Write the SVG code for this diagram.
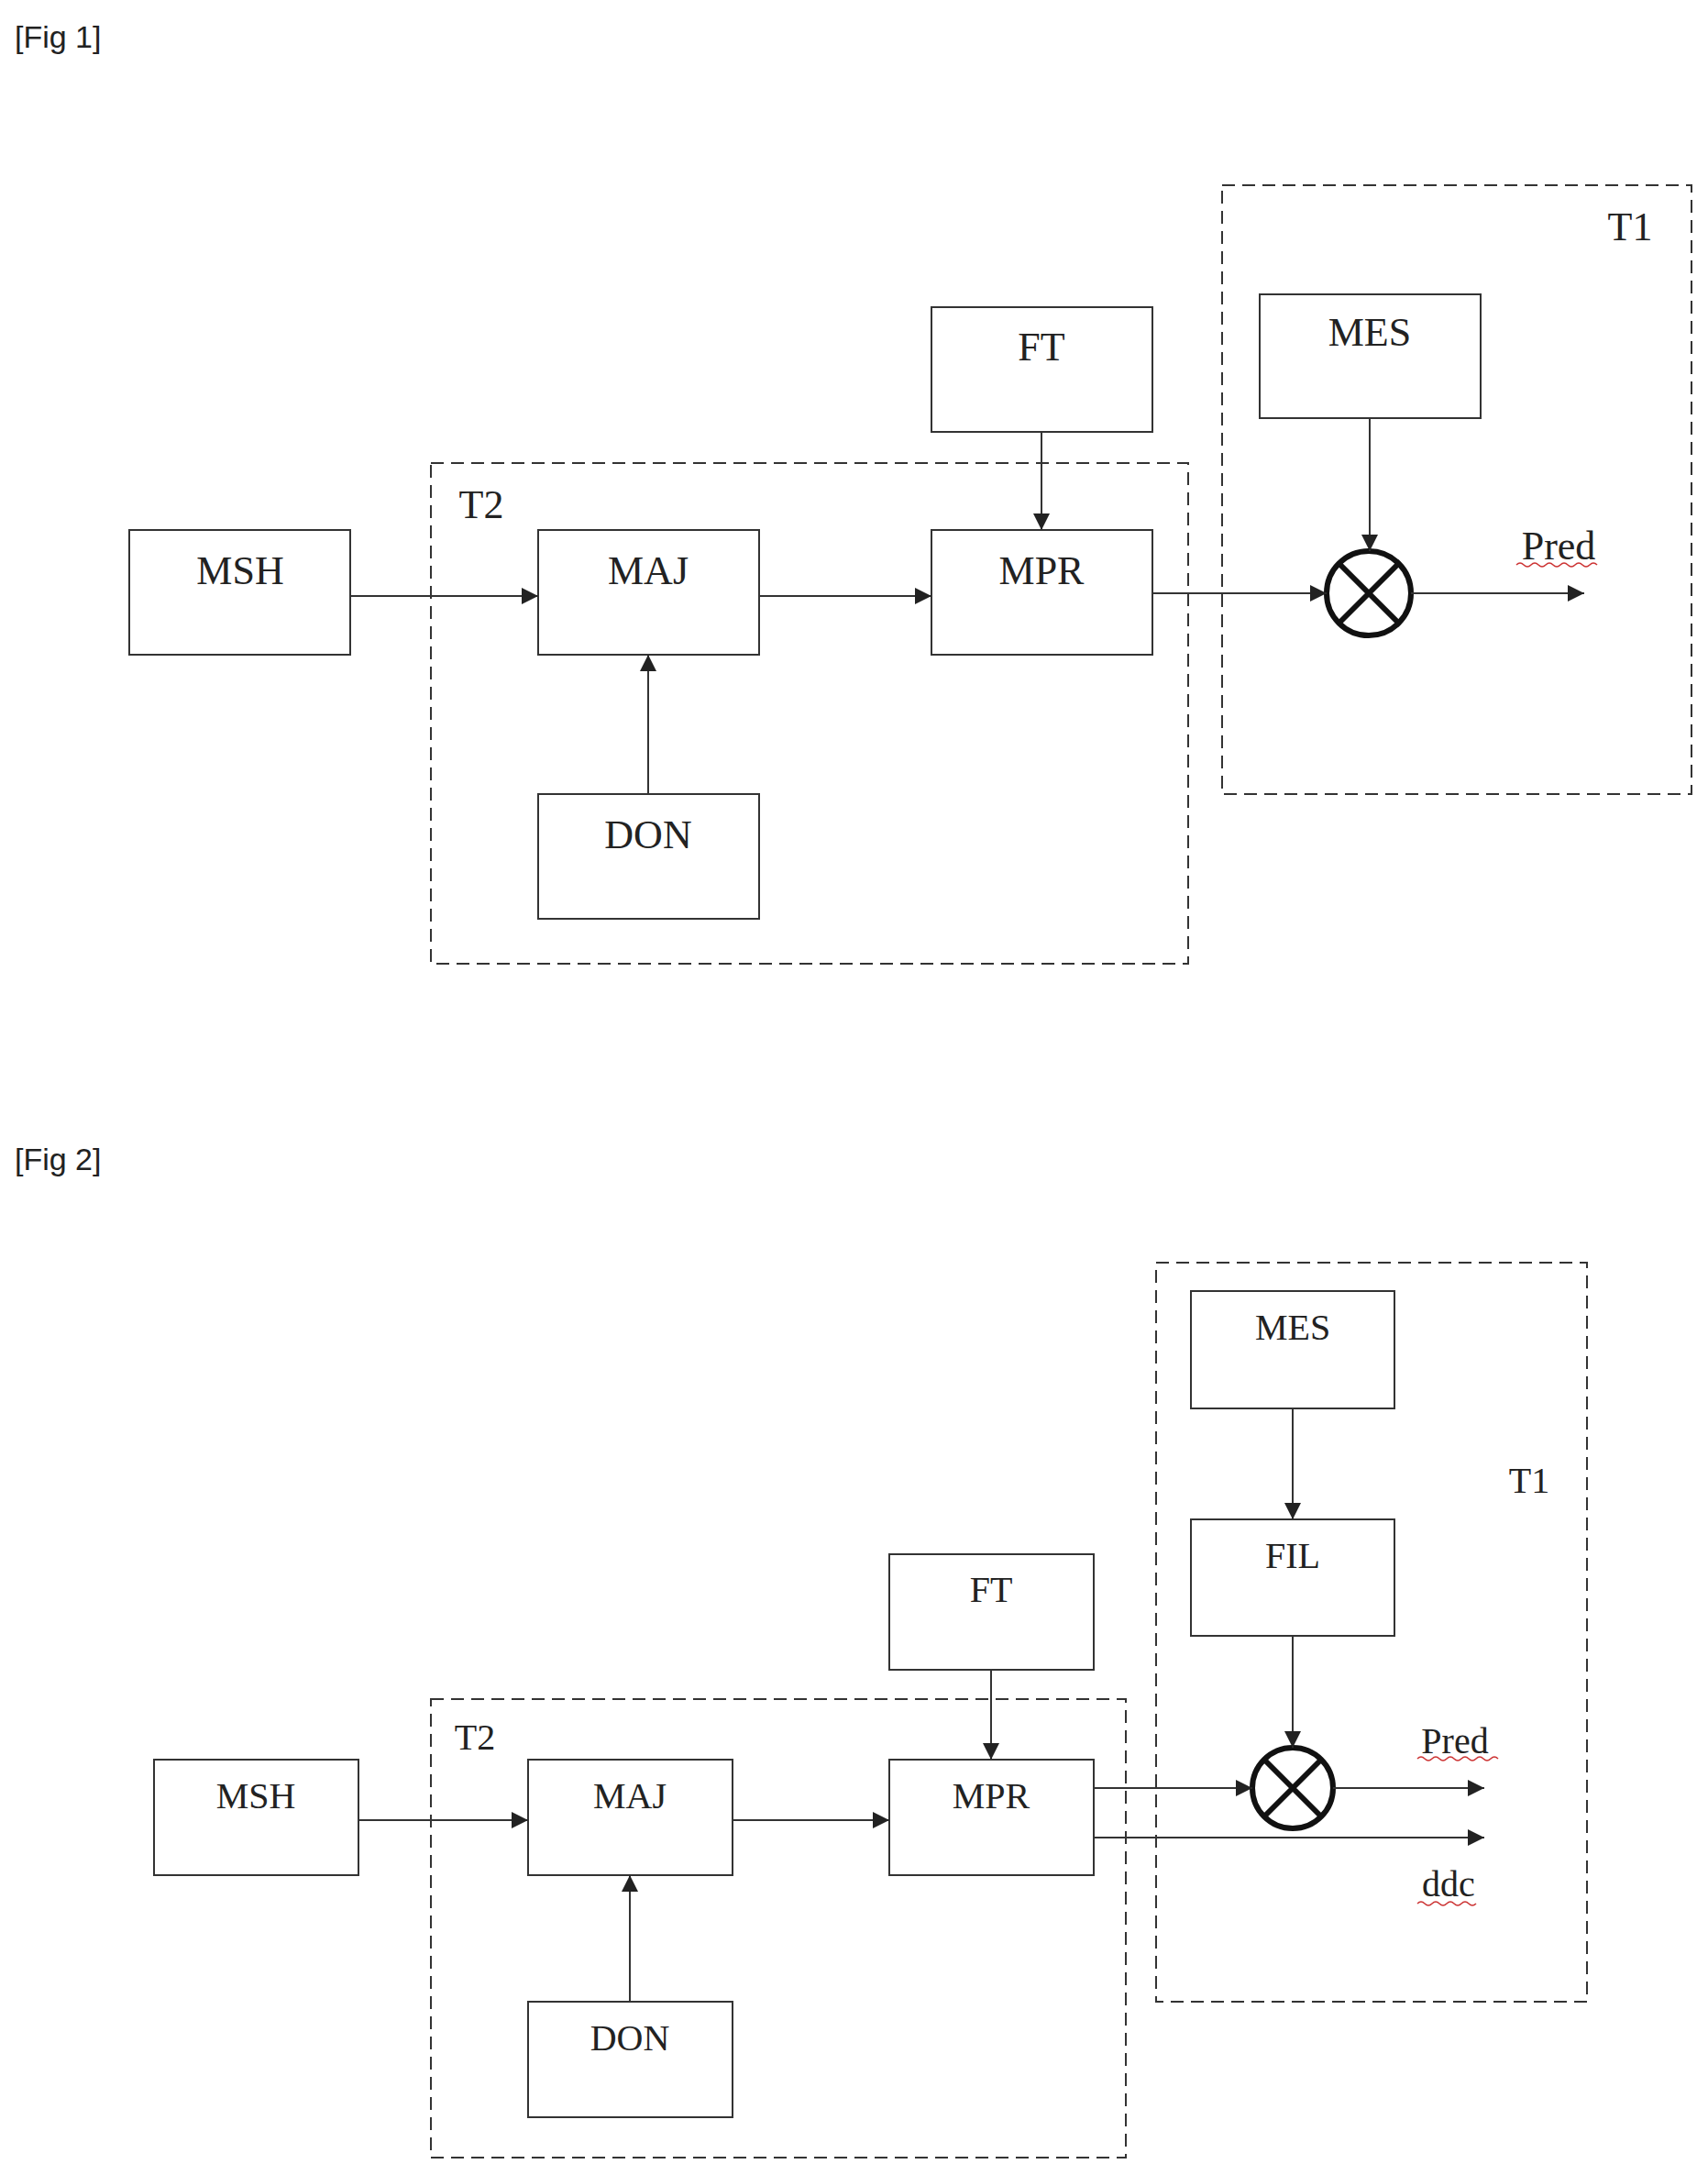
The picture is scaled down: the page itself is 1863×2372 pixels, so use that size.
<svg xmlns="http://www.w3.org/2000/svg" width="1863" height="2372" viewBox="0 0 1863 2372">
<defs>
<style>
.b{fill:#fff;stroke:#333;stroke-width:2}
.d{fill:none;stroke:#333;stroke-width:2;stroke-dasharray:14,8}
.c{stroke:#333;stroke-width:2;fill:none}
.t{font-family:"Liberation Serif",serif;font-size:44px;text-anchor:middle;fill:#222}
.t2{font-family:"Liberation Serif",serif;font-size:40px;text-anchor:middle;fill:#222}
.f{font-family:"Liberation Sans",sans-serif;font-size:34px;fill:#222}
.w{stroke:#c33;stroke-width:1.5;fill:none}
</style>
<marker id="a" viewBox="0 0 10 10" refX="10" refY="5" markerWidth="9" markerHeight="9" markerUnits="userSpaceOnUse" orient="auto"><path d="M0,0L10,5L0,10z" fill="#222"/></marker>
<marker id="a2" viewBox="0 0 10 10" refX="10" refY="5" markerWidth="18" markerHeight="18" markerUnits="userSpaceOnUse" orient="auto"><path d="M0,0L10,5L0,10z" fill="#222"/></marker>
</defs>
<rect width="1863" height="2372" fill="#fff"/>
<text class="f" x="16" y="52">[Fig 1]</text>
<text class="f" x="16" y="1276">[Fig 2]</text>
<g id="fig1">
<g id="f1-T2"><rect class="d" x="470" y="505" width="826" height="546"/><text class="t" x="525" y="565">T2</text></g>
<g id="f1-T1"><rect class="d" x="1333" y="202" width="512" height="664"/><text class="t" x="1778" y="262">T1</text></g>
<g id="f1-MSH"><rect class="b" x="141" y="578" width="241" height="136"/><text class="t" x="262" y="637">MSH</text></g>
<g id="f1-MAJ"><rect class="b" x="587" y="578" width="241" height="136"/><text class="t" x="707" y="637">MAJ</text></g>
<g id="f1-MPR"><rect class="b" x="1016" y="578" width="241" height="136"/><text class="t" x="1136" y="637">MPR</text></g>
<g id="f1-FT"><rect class="b" x="1016" y="335" width="241" height="136"/><text class="t" x="1136" y="393">FT</text></g>
<g id="f1-DON"><rect class="b" x="587" y="866" width="241" height="136"/><text class="t" x="707" y="925">DON</text></g>
<g id="f1-MES"><rect class="b" x="1374" y="321" width="241" height="135"/><text class="t" x="1494" y="377">MES</text></g>
<g id="f1-X"><circle cx="1493" cy="647" r="46" fill="#fff" stroke="#111" stroke-width="6"/><path d="M1460,614L1526,680M1526,614L1460,680" stroke="#111" stroke-width="6"/></g>
<g id="f1-Pred"><text class="t" x="1700" y="610">Pred</text><path class="w" d="M1654,616q4,-4 8,0t8,0t8,0t8,0t8,0t8,0t8,0t8,0t8,0t8,0t8,0"/></g>
</g>
<g id="fig2">
<g id="f2-T2"><rect class="d" x="470" y="1853" width="758" height="500"/><text class="t2" x="518" y="1908">T2</text></g>
<g id="f2-T1"><rect class="d" x="1261" y="1377" width="470" height="806"/><text class="t2" x="1668" y="1628">T1</text></g>
<g id="f2-MES"><rect class="b" x="1299" y="1408" width="222" height="128"/><text class="t2" x="1410" y="1461">MES</text></g>
<g id="f2-FIL"><rect class="b" x="1299" y="1657" width="222" height="127"/><text class="t2" x="1410" y="1710">FIL</text></g>
<g id="f2-FT"><rect class="b" x="970" y="1695" width="223" height="126"/><text class="t2" x="1081" y="1747">FT</text></g>
<g id="f2-MSH"><rect class="b" x="168" y="1919" width="223" height="126"/><text class="t2" x="279" y="1972">MSH</text></g>
<g id="f2-MAJ"><rect class="b" x="576" y="1919" width="223" height="126"/><text class="t2" x="687" y="1972">MAJ</text></g>
<g id="f2-MPR"><rect class="b" x="970" y="1919" width="223" height="126"/><text class="t2" x="1081" y="1972">MPR</text></g>
<g id="f2-DON"><rect class="b" x="576" y="2183" width="223" height="126"/><text class="t2" x="687" y="2236">DON</text></g>
<g id="f2-X"><circle cx="1410" cy="1950" r="44" fill="#fff" stroke="#111" stroke-width="6"/><path d="M1379,1919L1441,1981M1441,1919L1379,1981" stroke="#111" stroke-width="6"/></g>
<g id="f2-Pred"><text class="t2" x="1587" y="1912">Pred</text><path class="w" d="M1546,1918q4,-4 8,0t8,0t8,0t8,0t8,0t8,0t8,0t8,0t8,0t8,0t8,0"/></g>
<g id="f2-ddc"><text class="t2" x="1580" y="2068">ddc</text><path class="w" d="M1546,2076q4,-4 8,0t8,0t8,0t8,0t8,0t8,0t8,0t8,0"/></g>
</g>
<g id="connectors">
<path class="c" d="M382,650H587" marker-end="url(#a2)"/>
<path class="c" d="M828,650H1016" marker-end="url(#a2)"/>
<path class="c" d="M1136,471V578" marker-end="url(#a2)"/>
<path class="c" d="M707,866V714" marker-end="url(#a2)"/>
<path class="c" d="M1257,647H1447" marker-end="url(#a2)"/>
<path class="c" d="M1494,456V601" marker-end="url(#a2)"/>
<path class="c" d="M1539,647H1728" marker-end="url(#a2)"/>
<path class="c" d="M391,1985H576" marker-end="url(#a2)"/>
<path class="c" d="M799,1985H970" marker-end="url(#a2)"/>
<path class="c" d="M1081,1821V1919" marker-end="url(#a2)"/>
<path class="c" d="M687,2183V2045" marker-end="url(#a2)"/>
<path class="c" d="M1410,1536V1657" marker-end="url(#a2)"/>
<path class="c" d="M1410,1784V1906" marker-end="url(#a2)"/>
<path class="c" d="M1193,1950H1366" marker-end="url(#a2)"/>
<path class="c" d="M1454,1950H1619" marker-end="url(#a2)"/>
<path class="c" d="M1193,2004H1619" marker-end="url(#a2)"/>
</g>
</svg>
